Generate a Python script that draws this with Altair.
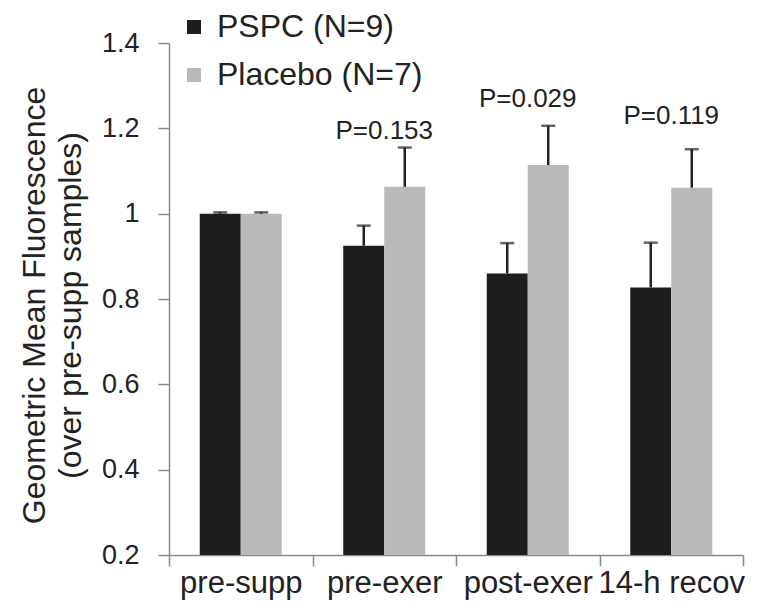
import altair as alt
import pandas as pd

# Sampling time points and groups
phases = ["pre-supp", "pre-exer", "post-exer", "14-h recov"]
groups = ["PSPC (N=9)", "Placebo (N=7)"]

# Geometric mean fluorescence relative to pre-supplementation, with upper error
pspc_mean = [1.000, 0.925, 0.860, 0.827]
pspc_err = [0.003, 0.047, 0.071, 0.105]
placebo_mean = [1.000, 1.063, 1.114, 1.061]
placebo_err = [0.003, 0.092, 0.092, 0.090]

# Between-group P values shown above each time point
p_phases = ["pre-exer", "post-exer", "14-h recov"]
p_labels = ["P=0.153", "P=0.029", "P=0.119"]
p_label_y = [1.175, 1.250, 1.210]

y_ticks = [0.2, 0.4, 0.6, 0.8, 1.0, 1.2, 1.4]

rows = []
for i, ph in enumerate(phases):
    rows.append({"phase": ph, "group": groups[0], "mean": pspc_mean[i],
                 "upper": pspc_mean[i] + pspc_err[i]})
    rows.append({"phase": ph, "group": groups[1], "mean": placebo_mean[i],
                 "upper": placebo_mean[i] + placebo_err[i]})
df = pd.DataFrame(rows)
pdf = pd.DataFrame({"phase": p_phases, "label": p_labels, "y": p_label_y})

FONT = "Liberation Sans"
AXIS_GRAY = "#8a8a8a"
INK = "#222222"

x_enc = alt.X(
    "phase:N",
    sort=phases,
    scale=alt.Scale(domain=phases, paddingInner=0, paddingOuter=0),
    axis=alt.Axis(
        title=None, labelAngle=0, tickBand="extent", labelFont=FONT,
        labelFontSize=31, labelColor=INK, labelPadding=2, tickSize=11,
        tickColor=AXIS_GRAY, domainColor=AXIS_GRAY, domainWidth=1.5,
        tickWidth=1.5, grid=False, labelLimit=0, labelOverlap=False,
    ),
)
xo_enc = alt.XOffset(
    "group:N",
    scale=alt.Scale(domain=groups, paddingInner=0, paddingOuter=0.75),
)
y_scale = alt.Scale(domain=[0.2, 1.4], zero=False, nice=False)

bars = alt.Chart(df).mark_bar().encode(
    x=x_enc,
    xOffset=xo_enc,
    y=alt.Y(
        "mean:Q",
        scale=y_scale,
        axis=alt.Axis(
            values=y_ticks, format=".1~f",
            title=["Geometric Mean Fluorescence", "(over pre-supp samples)"],
            titleFont=FONT, titleFontSize=32, titleFontWeight="normal",
            titleColor=INK, titleX=-125, titleY=262, titleAlign="center",
            titleBaseline="alphabetic", titleLineHeight=36,
            labelFont=FONT, labelFontSize=27, labelColor=INK, labelPadding=19,
            tickSize=11, tickColor=AXIS_GRAY, tickWidth=1.5,
            domainColor=AXIS_GRAY, domainWidth=1.5, grid=False,
        ),
    ),
    y2=alt.datum(0.2),
    color=alt.Color(
        "group:N",
        scale=alt.Scale(domain=groups, range=["#1e1e1e", "#b9b9b9"]),
        legend=alt.Legend(
            title=None, orient="none", legendX=9, legendY=-32,
            direction="vertical", symbolType="square", symbolSize=196,
            symbolStrokeWidth=0, labelFont=FONT, labelFontSize=32,
            labelColor=INK, labelOffset=7, labelLimit=0, rowPadding=16,
            padding=0,
        ),
    ),
)

whiskers = alt.Chart(df).mark_rule(color=INK, strokeWidth=2.5).encode(
    x=alt.X("phase:N", sort=phases),
    xOffset=xo_enc,
    y=alt.Y("mean:Q", scale=y_scale),
    y2="upper:Q",
)

caps = alt.Chart(df).mark_tick(
    color=INK, orient="horizontal", size=14, thickness=2.5
).encode(
    x=alt.X("phase:N", sort=phases),
    xOffset=xo_enc,
    y=alt.Y("upper:Q", scale=y_scale),
)

p_text = alt.Chart(pdf).mark_text(
    font=FONT, fontSize=26, color=INK, align="center", baseline="alphabetic"
).encode(
    x=alt.X("phase:N", sort=phases),
    y=alt.Y("y:Q", scale=y_scale),
    text="label:N",
)

chart = (
    alt.layer(bars, whiskers, caps, p_text)
    .properties(
        width=574,
        height=512,
        autosize=alt.AutoSizeParams(type="none"),
        padding={"left": 169, "top": 43, "right": 32, "bottom": 48},
        background="white",
    )
    .configure_view(stroke=None)
)

chart.save("out.html", embed_options={"renderer": "svg", "actions": False})
